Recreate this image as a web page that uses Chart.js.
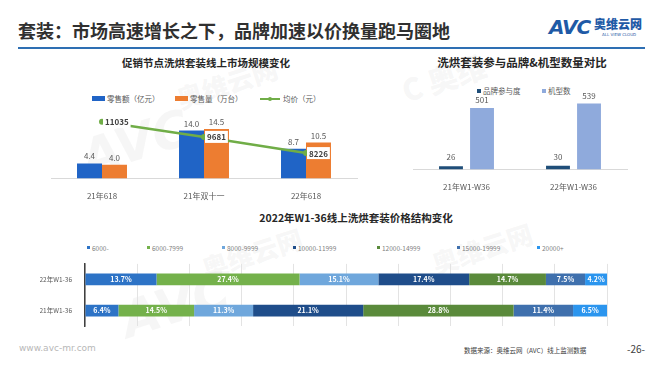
<!DOCTYPE html>
<html>
<head>
<meta charset="utf-8">
<script src="https://cdn.jsdelivr.net/npm/chart.js@4.4.1/dist/chart.umd.min.js"></script>
<style>
  body { margin: 0; width: 660px; height: 372px; background: #fff; position: relative; overflow: hidden;
         font-family: "Noto Sans CJK SC", "Noto Sans", sans-serif; color: #595959; }
  .abs { position: absolute; white-space: nowrap; line-height: 1; }
  .mid { transform: translate(-50%, -50%); }
  .vmid { transform: translateY(-50%); }
  canvas { position: absolute; }
  .sw { position: absolute; }
  .wm { position: absolute; white-space: nowrap; color: rgba(170,170,170,0.10); font-weight: 900; line-height: 1; }
</style>
</head>
<body>

<!-- ── Header ── -->
<div class="abs vmid" style="left:18px;top:30px;font-size:18px;font-weight:700;color:#303030;">套装：市场高速增长之下，品牌加速以价换量跑马圈地</div>
<div class="abs vmid" style="left:549px;top:27px;font-size:20px;font-weight:900;font-style:italic;color:#1f5aa6;font-family:'DejaVu Sans';letter-spacing:-1px;">AVC</div>
<div class="abs vmid" style="left:594px;top:24px;font-size:12px;font-weight:900;color:#1f5aa6;">奥维云网</div>
<div class="abs vmid" style="left:602px;top:35px;font-size:4px;color:#1f5aa6;font-family:'DejaVu Sans';">ALL VIEW CLOUD</div>
<div class="abs" style="left:18px;top:47px;width:627px;height:2px;background:#2e6fb3;"></div>

<!-- ── Watermarks ── -->
<div class="wm" style="left:80px;top:118px;font-size:50px;font-style:italic;font-family:'DejaVu Sans';transform:rotate(-18deg);">AVC</div>
<div class="wm" style="left:175px;top:70px;font-size:26px;transform:rotate(-18deg);">奥维云网</div>
<div class="wm" style="left:400px;top:62px;font-size:30px;transform:rotate(-18deg);">C 奥维</div>
<div class="wm" style="left:120px;top:280px;font-size:50px;font-style:italic;font-family:'DejaVu Sans';transform:rotate(-18deg);">AVC</div>
<div class="wm" style="left:200px;top:240px;font-size:26px;transform:rotate(-18deg);">奥维云网</div>
<div class="wm" style="left:430px;top:235px;font-size:26px;transform:rotate(-18deg);">奥维云网</div>

<!-- ── Left chart: title + legend ── -->
<div class="abs mid" style="left:206px;top:63px;font-size:10.5px;font-weight:700;color:#262626;">促销节点洗烘套装线上市场规模变化</div>
<div class="sw" style="left:92px;top:96px;width:13px;height:5px;background:#2064c6;"></div>
<div class="abs vmid" style="left:107px;top:98.5px;font-size:7.5px;">零售额（亿元）</div>
<div class="sw" style="left:175px;top:96px;width:13px;height:5px;background:#ed7d31;"></div>
<div class="abs vmid" style="left:190px;top:98.5px;font-size:7.5px;">零售量（万台）</div>
<div class="sw" style="left:260px;top:97.5px;width:20px;height:2px;background:#70ad47;"></div>
<div class="sw" style="left:268px;top:96.5px;width:4px;height:4px;border-radius:2px;background:#70ad47;"></div>
<div class="abs vmid" style="left:283px;top:98.5px;font-size:7.5px;">均价（元）</div>
<canvas id="promoChart" width="318" height="106" style="left:45px;top:100px;"></canvas>

<!-- ── Right chart: title + legend ── -->
<div class="abs mid" style="left:522px;top:63px;font-size:11.5px;font-weight:700;color:#262626;">洗烘套装参与品牌&amp;机型数量对比</div>
<div class="sw" style="left:477px;top:89px;width:4px;height:4px;background:#1f4e79;"></div>
<div class="abs vmid" style="left:483px;top:91px;font-size:7.5px;">品牌参与度</div>
<div class="sw" style="left:542px;top:89px;width:4px;height:4px;background:#8faadc;"></div>
<div class="abs vmid" style="left:548px;top:91px;font-size:7.5px;">机型数</div>
<canvas id="brandChart" width="240" height="112" style="left:400px;top:85px;"></canvas>

<!-- ── Bottom chart: title + legend ── -->
<div class="abs mid" style="left:356px;top:218px;font-size:10.5px;font-weight:700;color:#262626;">2022年W1-36线上洗烘套装价格结构变化</div>
<div id="bandLegend"></div>
<canvas id="priceChart" width="575" height="80" style="left:40px;top:255px;"></canvas>

<!-- ── Footer ── -->
<div class="abs vmid" style="left:19px;top:348px;font-size:9px;color:#b8b8b8;font-family:'DejaVu Sans';">www.avc-mr.com</div>
<div class="abs vmid" style="left:464px;top:350px;font-size:6.5px;color:#404040;">数据来源：奥维云网（AVC）线上监测数据</div>
<div class="abs vmid" style="left:627px;top:349px;font-size:10px;color:#404040;">-26-</div>

<script>
/* ── Data ─────────────────────────────────────────────────────────────────── */
const PROMO_LABELS = ["21年618", "21年双十一", "22年618"];
const PROMO_SALES  = [4.4, 14.0, 8.7];       // 零售额（亿元）
const PROMO_VOLUME = [4.0, 14.5, 10.5];      // 零售量（万台）
const PROMO_PRICE  = [11035, 9681, 8226];    // 均价（元）

const BRAND_LABELS = ["21年W1-W36", "22年W1-W36"];
const BRAND_COUNT  = [26, 30];               // 品牌参与度
const MODEL_COUNT  = [501, 539];             // 机型数

const PRICE_ROWS  = ["22年W1-36", "21年W1-36"];
const PRICE_BANDS = ["6000-", "6000-7999", "8000-9999", "10000-11999", "12000-14999", "15000-19999", "20000+"];
const SHARE_22    = [13.7, 27.4, 15.1, 17.4, 14.7, 7.5, 4.2];
const SHARE_21    = [6.4, 14.5, 11.3, 21.1, 28.8, 11.4, 6.5];

/* ── Styles ───────────────────────────────────────────────────────────────── */
const BAND_COLORS = ["#2d73c6", "#74b14b", "#6fa7dc", "#1f4d8a", "#5a8a3b", "#3f70ad", "#2b95ee"];
const BAND_LEGEND_X = [87, 147, 222, 293, 377, 457, 537];

Chart.defaults.font.family = '"Noto Sans CJK SC", "Noto Sans", sans-serif';
Chart.defaults.color = "#595959";

/* ── Value label plugin ───────────────────────────────────────────────────── */
const valueLabels = {
  id: "valueLabels",
  afterDatasetsDraw(chart) {
    const ctx = chart.ctx;
    chart.data.datasets.forEach((ds, i) => {
      const lab = ds.valueLabel;
      if (!lab) return;
      chart.getDatasetMeta(i).data.forEach((el, j) => {
        const text = lab.format(ds.data[j]);
        ctx.save();
        ctx.font = `${lab.weight || "normal"} ${lab.size}px "Noto Sans CJK SC", sans-serif`;
        ctx.fillStyle = lab.color;
        ctx.textBaseline = "middle";
        if (lab.pos === "top") {
          ctx.textAlign = "center";
          ctx.fillText(text, el.x, el.y - lab.gap);
        } else if (lab.pos === "center") {
          ctx.textAlign = "center";
          ctx.fillText(text, (el.x + el.base) / 2, el.y);
        } else if (lab.pos === "box") {
          ctx.textAlign = "left";
          const w = ctx.measureText(text).width;
          ctx.fillStyle = "#fff";
          ctx.fillRect(el.x + 1, el.y - 6, w + 4, 12);
          ctx.fillStyle = lab.color;
          ctx.fillText(text, el.x + 3, el.y + 0.5);
        }
        ctx.restore();
      });
    });
  },
};

/* ── Left: promo market size ──────────────────────────────────────────────── */
new Chart(document.getElementById("promoChart"), {
  type: "bar",
  data: {
    labels: PROMO_LABELS,
    datasets: [
      {
        type: "line", label: "均价（元）", data: PROMO_PRICE, yAxisID: "y1", order: 0,
        borderColor: "#70ad47", backgroundColor: "#70ad47", borderWidth: 2.5,
        pointRadius: 3, pointBackgroundColor: "#70ad47", pointBorderWidth: 0,
        valueLabel: { pos: "box", size: 8, weight: "bold", color: "#404040", format: (v) => String(v) },
      },
      {
        label: "零售额（亿元）", data: PROMO_SALES, backgroundColor: "#2064c6", order: 1,
        valueLabel: { pos: "top", size: 8, gap: 7, color: "#595959", format: (v) => v.toFixed(1) },
      },
      {
        label: "零售量（万台）", data: PROMO_VOLUME, backgroundColor: "#ed7d31", order: 1,
        valueLabel: { pos: "top", size: 8, gap: 7, color: "#595959", format: (v) => v.toFixed(1) },
      },
    ],
  },
  options: {
    responsive: false, animation: false, events: [],
    layout: { padding: { left: 6, right: 6, top: 5, bottom: 0 } },
    datasets: { bar: { categoryPercentage: 0.49, barPercentage: 1 } },
    plugins: { legend: { display: false }, tooltip: { enabled: false } },
    scales: {
      x: {
        grid: { display: false },
        border: { color: "#d9d9d9", width: 1 },
        ticks: { font: { size: 8 }, color: "#595959", padding: 5 },
      },
      y:  { display: false, min: 0, max: 21.5 },
      y1: { display: false, min: 5950, max: 12550, position: "right" },
    },
  },
  plugins: [valueLabels],
});

/* ── Right: brands & models ───────────────────────────────────────────────── */
new Chart(document.getElementById("brandChart"), {
  type: "bar",
  data: {
    labels: BRAND_LABELS,
    datasets: [
      {
        label: "品牌参与度", data: BRAND_COUNT, backgroundColor: "#1f4e79",
        valueLabel: { pos: "top", size: 8, gap: 9, color: "#595959", format: (v) => String(v) },
      },
      {
        label: "机型数", data: MODEL_COUNT, backgroundColor: "#8faadc",
        valueLabel: { pos: "top", size: 8, gap: 8, color: "#595959", format: (v) => String(v) },
      },
    ],
  },
  options: {
    responsive: false, animation: false, events: [],
    layout: { padding: { left: 13, right: 13, top: 11, bottom: 0 } },
    datasets: { bar: { categoryPercentage: 0.58, barPercentage: 0.77 } },
    plugins: { legend: { display: false }, tooltip: { enabled: false } },
    scales: {
      x: {
        grid: { display: false },
        border: { color: "#d9d9d9", width: 1 },
        ticks: { font: { size: 8 }, color: "#595959", padding: 5 },
      },
      y: { display: false, min: 0, max: 600 },
    },
  },
  plugins: [valueLabels],
});

/* ── Bottom: price structure ──────────────────────────────────────────────── */
const legendBox = document.getElementById("bandLegend");
PRICE_BANDS.forEach((band, i) => {
  legendBox.insertAdjacentHTML("beforeend",
    `<div class="sw" style="left:${BAND_LEGEND_X[i]}px;top:246px;width:3px;height:3px;background:${BAND_COLORS[i]};"></div>` +
    `<div class="abs vmid" style="left:${BAND_LEGEND_X[i] + 5}px;top:247.5px;font-size:6.5px;color:#7f7f7f;">${band}</div>`);
});

new Chart(document.getElementById("priceChart"), {
  type: "bar",
  data: {
    labels: PRICE_ROWS,
    datasets: PRICE_BANDS.map((band, i) => ({
      label: band,
      data: [SHARE_22[i], SHARE_21[i]],
      backgroundColor: BAND_COLORS[i],
      valueLabel: { pos: "center", size: 7, weight: "bold", color: "#fff", format: (v) => v.toFixed(1) + "%" },
    })),
  },
  options: {
    indexAxis: "y",
    responsive: false, animation: false, events: [],
    layout: { padding: { left: 0, right: 8, top: 3, bottom: 3 } },
    datasets: { bar: { categoryPercentage: 0.38, barPercentage: 1 } },
    plugins: { legend: { display: false }, tooltip: { enabled: false } },
    scales: {
      x: {
        stacked: true, min: 0, max: 100,
        grid: { color: "#e3e3e3", drawTicks: false },
        border: { display: false },
        ticks: { display: false, stepSize: 10 },
      },
      y: {
        stacked: true,
        grid: { display: false },
        border: { color: "#404040", width: 1.5 },
        ticks: { font: { size: 6.5 }, color: "#595959", padding: 5 },
        afterFit: (scale) => { scale.width = 45; },
      },
    },
  },
  plugins: [valueLabels],
});
</script>
</body>
</html>
